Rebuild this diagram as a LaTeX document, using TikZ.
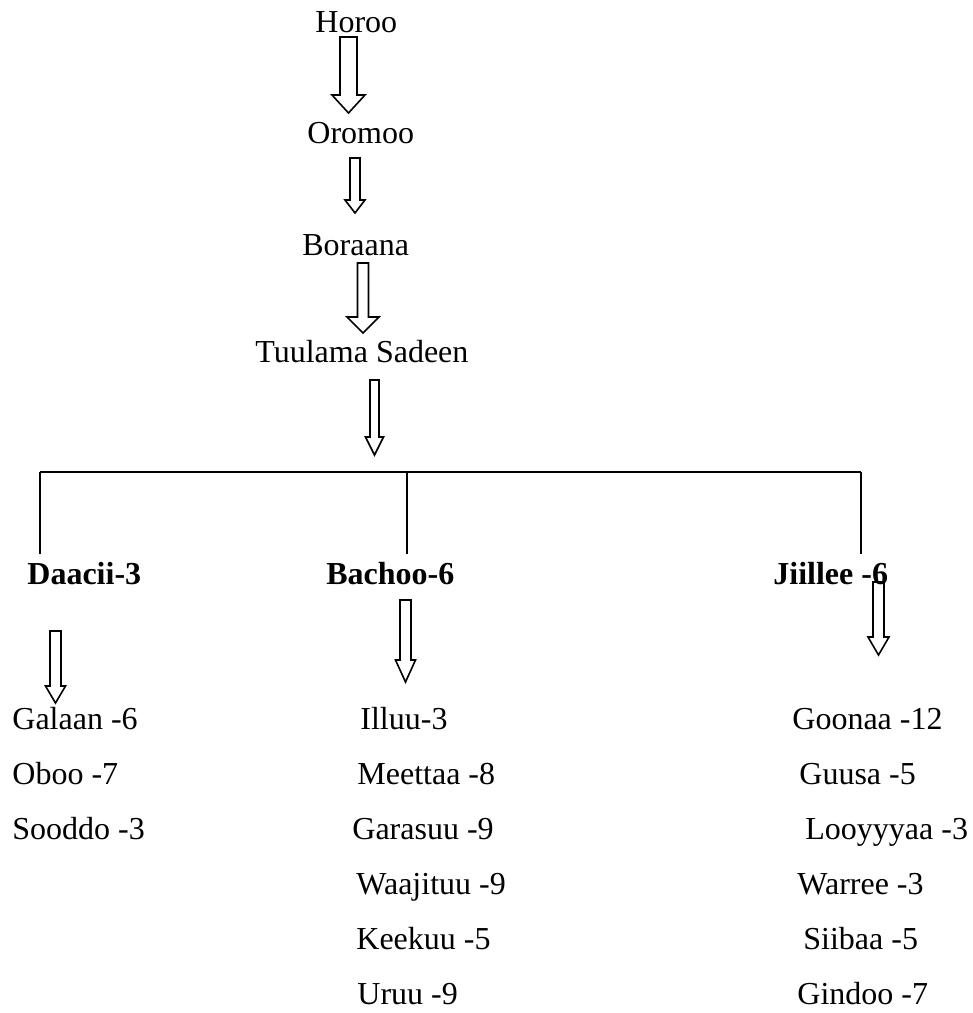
\documentclass[tikz,border=0pt]{standalone}
\usepackage{fontspec}
\setmainfont{Liberation Serif}
\usetikzlibrary{calc}

% hollow block arrow pointing down: x, top, head start, tip, shaft half width, head half width
\newcommand{\hollowdown}[6]{%
\draw[blockarrow] ({#1-#5},#2) -- ({#1+#5},#2) -- ({#1+#5},#3) -- ({#1+#6},#3) -- (#1,#4) -- ({#1-#6},#3) -- ({#1-#5},#3) -- cycle;}

\begin{document}
\begin{tikzpicture}[x=0.5pt,y=-0.5pt,
  lbl/.style={anchor=base west,inner sep=0pt,font=\fontsize{16}{19}\selectfont},
  head/.style={lbl,font=\fontsize{16}{19}\selectfont\bfseries},
  blockarrow/.style={line width=0.8pt,line join=miter},
  branch/.style={line width=1.3pt}]
\useasboundingbox (0,0) rectangle (973,1013);
% the line of descent
\node[lbl] (horoo) at (315,32) {Horoo};
\node[lbl] (oromoo) at (307,143) {Oromoo};
\node[lbl] (boraana) at (302,255) {Boraana};
\node[lbl] (tuulama) at (255,362) {Tuulama Sadeen};
\hollowdown{348.5}{37}{95}{113}{8.5}{16.5}
\hollowdown{355}{158}{200}{213}{5}{10}
\hollowdown{363}{263}{317}{333}{5.5}{16}
\hollowdown{374.5}{380}{437}{455}{4.5}{9}
% the three branches
\coordinate (bl) at (40,472);
\coordinate (bm) at (407,472);
\coordinate (br) at (861,472);
\draw[branch] (bl) -- (br);
\draw[branch] (bl) -- ++(0,82);
\draw[branch] (bm) -- ++(0,82);
\draw[branch] (br) -- ++(0,82);
\node[head] (daacii) at (27,584) {Daacii-3};
\node[head] (bachoo) at (326,584) {Bachoo-6};
\node[head] (jiillee) at (773,584) {Jiillee -6};
\hollowdown{55.5}{631}{686}{703}{5.5}{10}
\hollowdown{405.5}{600}{660}{682}{5.5}{10}
\hollowdown{878.5}{582}{637}{655}{5.5}{10.5}
% clans under each branch
\def\daaciilist{12/729/dA/{Galaan -6},12/784/dB/{Oboo -7},12/839/dC/{Sooddo -3}}
\def\bachoolist{360/729/bA/{Illuu-3},357/784/bB/{Meettaa -8},352/839/bC/{Garasuu -9},356/894/bD/{Waajituu -9},356/949/bE/{Keekuu -5},357/1004/bF/{Uruu -9}}
\def\jiilleelist{792/729/jA/{Goonaa -12},799/784/jB/{Guusa -5},805/839/jC/{Looyyyaa -3},797/894/jD/{Warree -3},803/949/jE/{Siibaa -5},797/1004/jF/{Gindoo -7}}
\foreach \xx/\yy/\nm/\txt in \daaciilist{
	\node[lbl] (\nm) at (\xx,\yy) {\txt};
}
\foreach \xx/\yy/\nm/\txt in \bachoolist{
	\node[lbl] (\nm) at (\xx,\yy) {\txt};
}
\foreach \xx/\yy/\nm/\txt in \jiilleelist{
	\node[lbl] (\nm) at (\xx,\yy) {\txt};
}
\end{tikzpicture}
\end{document}
